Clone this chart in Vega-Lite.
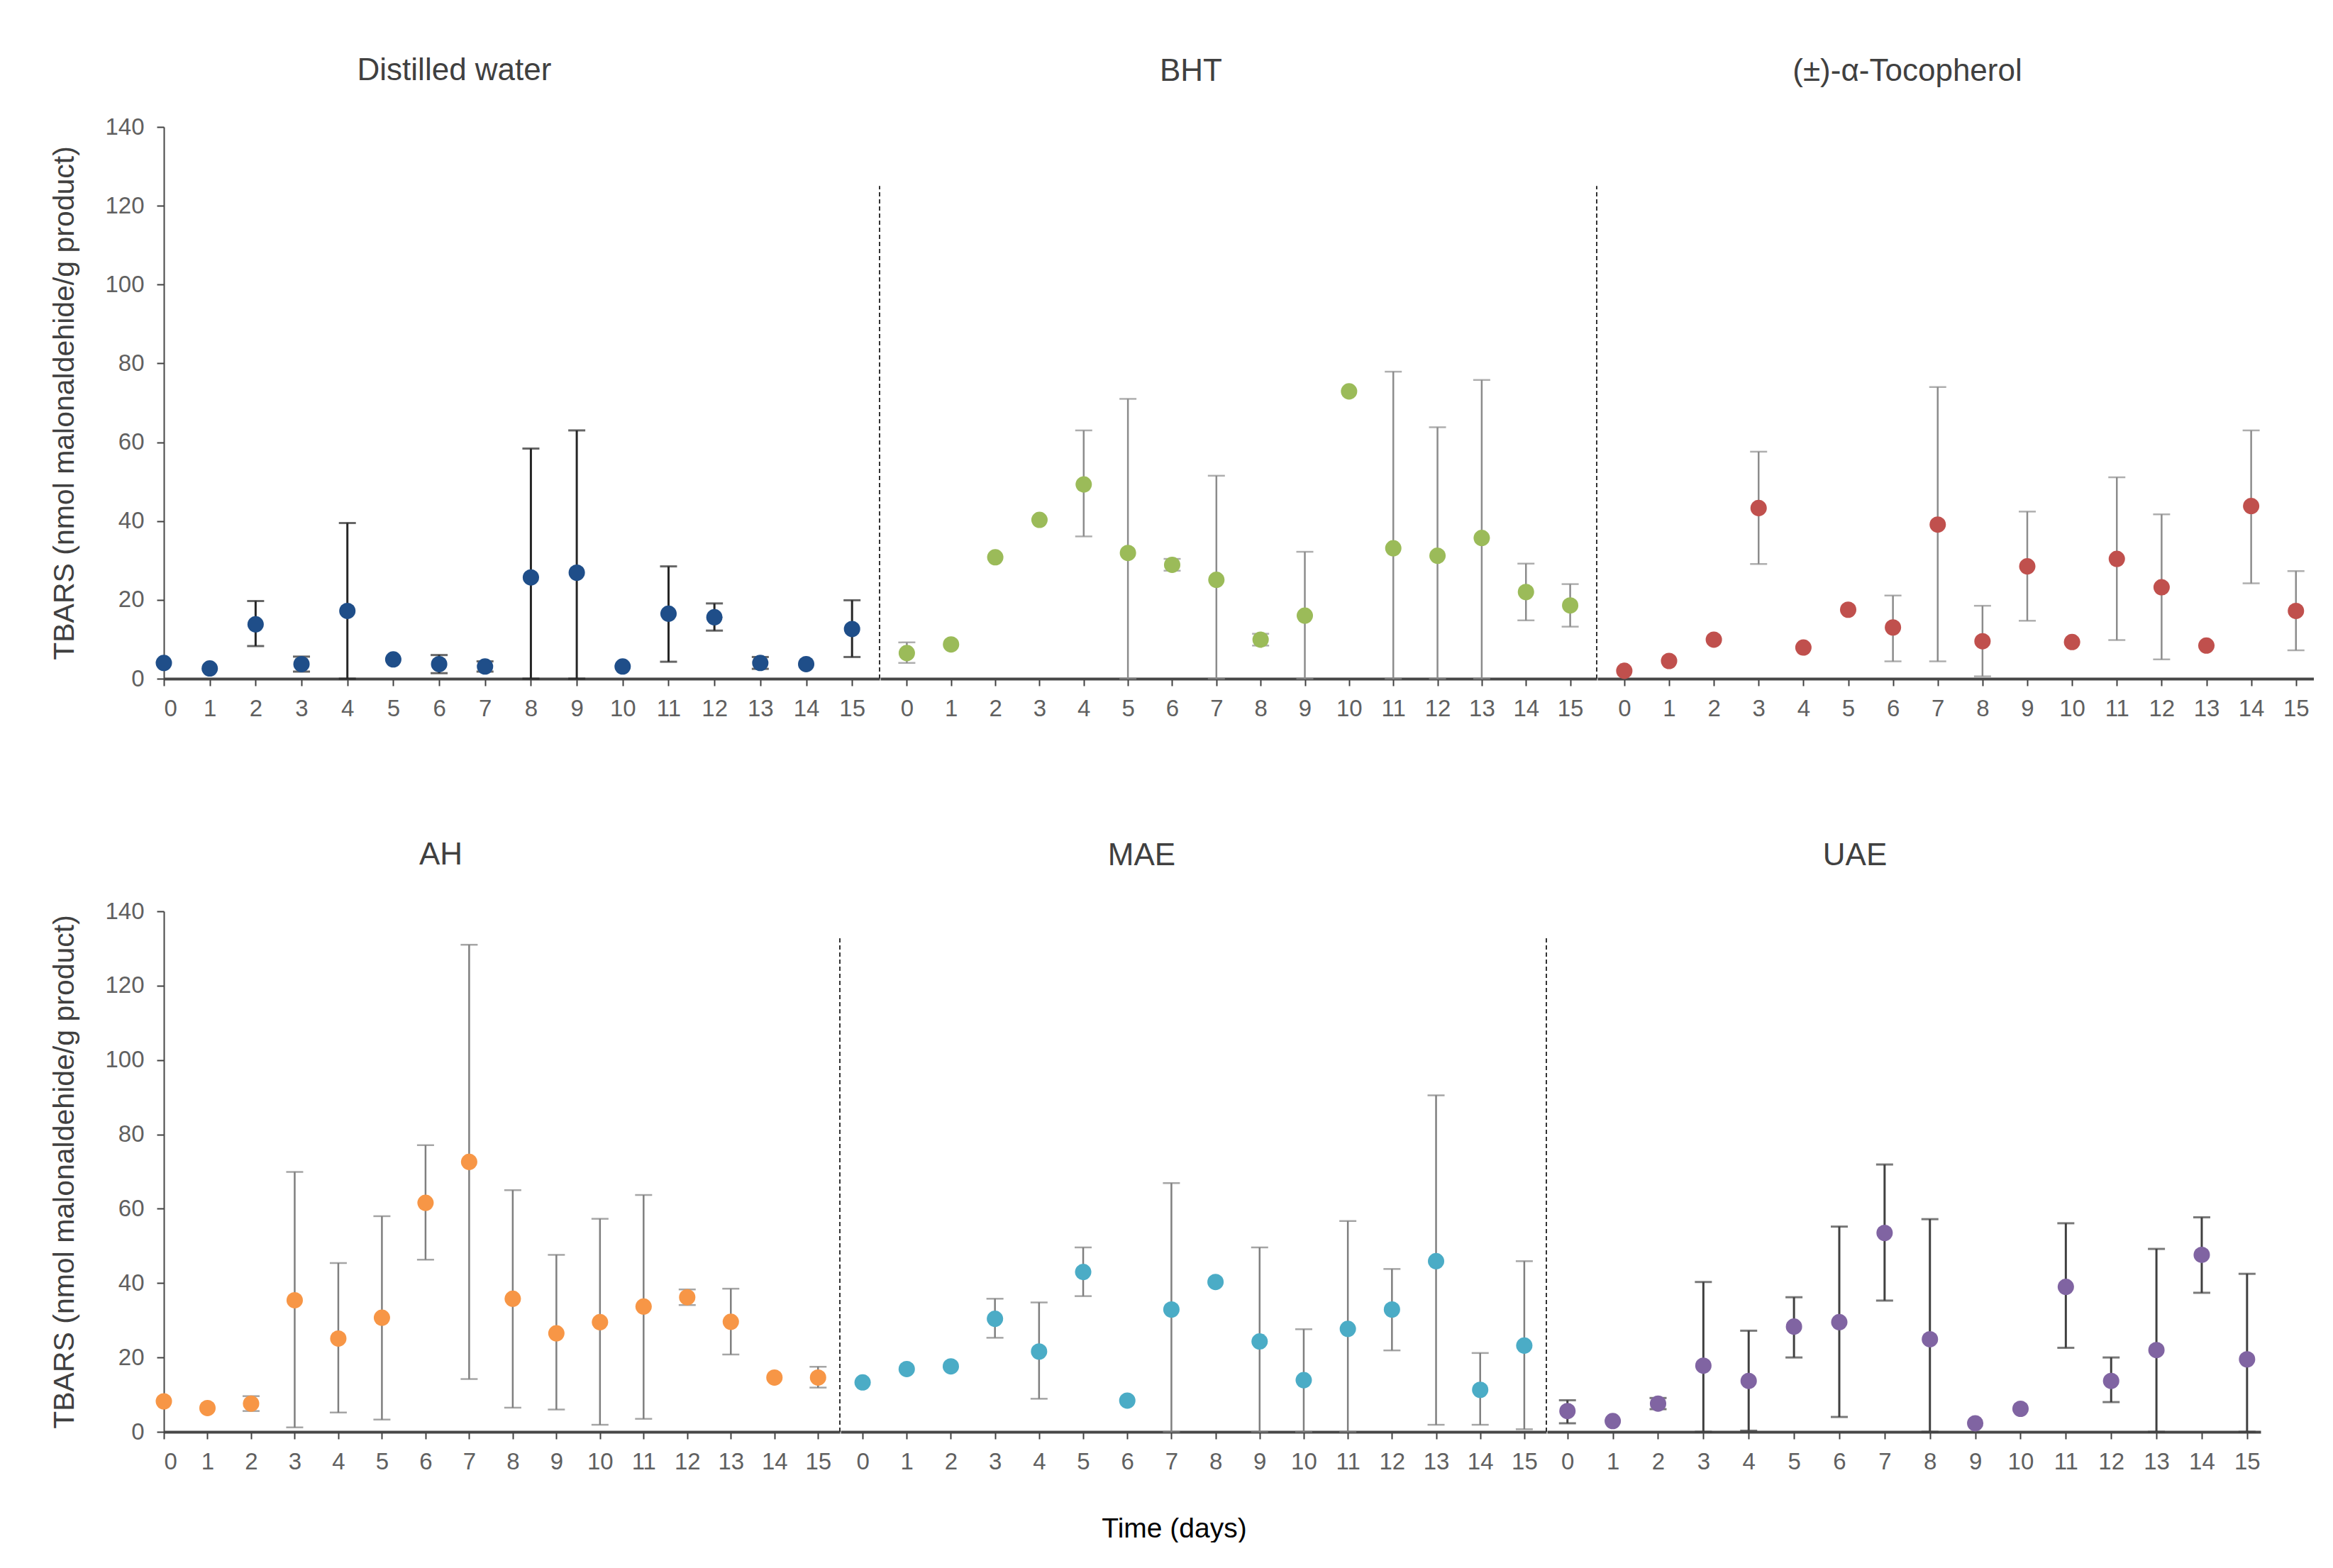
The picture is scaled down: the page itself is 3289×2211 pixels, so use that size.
{
  "$schema": "https://vega.github.io/schema/vega-lite/v6.json",
  "padding": {"left": 70, "top": 78, "right": 0, "bottom": 0},
  "data": {
    "values": [
      {"g": "DW", "day": 0, "m": 4.0},
      {"g": "DW", "day": 1, "m": 2.6},
      {"g": "DW", "day": 2, "m": 13.8, "lo": 8.3, "hi": 19.7},
      {"g": "DW", "day": 3, "m": 3.7, "lo": 1.8, "hi": 5.6},
      {"g": "DW", "day": 4, "m": 17.2, "lo": 0, "hi": 39.5},
      {"g": "DW", "day": 5, "m": 4.9},
      {"g": "DW", "day": 6, "m": 3.7, "lo": 1.4, "hi": 6.0},
      {"g": "DW", "day": 7, "m": 3.1, "lo": 1.8, "hi": 4.4},
      {"g": "DW", "day": 8, "m": 25.7, "lo": 0, "hi": 58.4},
      {"g": "DW", "day": 9, "m": 26.9, "lo": 0, "hi": 63.0},
      {"g": "DW", "day": 10, "m": 3.1},
      {"g": "DW", "day": 11, "m": 16.5, "lo": 4.3, "hi": 28.5},
      {"g": "DW", "day": 12, "m": 15.6, "lo": 12.2, "hi": 19.1},
      {"g": "DW", "day": 13, "m": 4.0, "lo": 2.5, "hi": 5.5},
      {"g": "DW", "day": 14, "m": 3.7},
      {"g": "DW", "day": 15, "m": 12.6, "lo": 5.5, "hi": 19.9},

      {"g": "BHT", "day": 0, "m": 6.5, "lo": 4.0, "hi": 9.2},
      {"g": "BHT", "day": 1, "m": 8.7},
      {"g": "BHT", "day": 2, "m": 30.8},
      {"g": "BHT", "day": 3, "m": 40.3},
      {"g": "BHT", "day": 4, "m": 49.3, "lo": 36.1, "hi": 63.0},
      {"g": "BHT", "day": 5, "m": 31.9, "lo": 0, "hi": 71.0},
      {"g": "BHT", "day": 6, "m": 28.9, "lo": 27.4, "hi": 30.4},
      {"g": "BHT", "day": 7, "m": 25.1, "lo": 0, "hi": 51.5},
      {"g": "BHT", "day": 8, "m": 9.9, "lo": 8.4, "hi": 11.4},
      {"g": "BHT", "day": 9, "m": 16.0, "lo": 0, "hi": 32.2},
      {"g": "BHT", "day": 10, "m": 72.9},
      {"g": "BHT", "day": 11, "m": 33.1, "lo": 0, "hi": 77.9},
      {"g": "BHT", "day": 12, "m": 31.2, "lo": 0, "hi": 63.8},
      {"g": "BHT", "day": 13, "m": 35.7, "lo": 0, "hi": 75.8},
      {"g": "BHT", "day": 14, "m": 22.0, "lo": 14.8, "hi": 29.2},
      {"g": "BHT", "day": 15, "m": 18.6, "lo": 13.2, "hi": 24.0},

      {"g": "TOC", "day": 0, "m": 2.0},
      {"g": "TOC", "day": 1, "m": 4.5},
      {"g": "TOC", "day": 2, "m": 9.9},
      {"g": "TOC", "day": 3, "m": 43.3, "lo": 29.1, "hi": 57.6},
      {"g": "TOC", "day": 4, "m": 7.9},
      {"g": "TOC", "day": 5, "m": 17.5},
      {"g": "TOC", "day": 6, "m": 13.0, "lo": 4.4, "hi": 21.1},
      {"g": "TOC", "day": 7, "m": 39.1, "lo": 4.4, "hi": 74.0},
      {"g": "TOC", "day": 8, "m": 9.5, "lo": 0.6, "hi": 18.5},
      {"g": "TOC", "day": 9, "m": 28.5, "lo": 14.7, "hi": 42.4},
      {"g": "TOC", "day": 10, "m": 9.3},
      {"g": "TOC", "day": 11, "m": 30.4, "lo": 9.8, "hi": 51.1},
      {"g": "TOC", "day": 12, "m": 23.2, "lo": 4.9, "hi": 41.7},
      {"g": "TOC", "day": 13, "m": 8.4},
      {"g": "TOC", "day": 14, "m": 43.8, "lo": 24.2, "hi": 63.0},
      {"g": "TOC", "day": 15, "m": 17.2, "lo": 7.2, "hi": 27.3},

      {"g": "AH", "day": 0, "m": 8.2},
      {"g": "AH", "day": 1, "m": 6.4},
      {"g": "AH", "day": 2, "m": 7.6, "lo": 5.6, "hi": 9.6},
      {"g": "AH", "day": 3, "m": 35.4, "lo": 1.2, "hi": 69.9},
      {"g": "AH", "day": 4, "m": 25.1, "lo": 5.2, "hi": 45.4},
      {"g": "AH", "day": 5, "m": 30.7, "lo": 3.3, "hi": 58.0},
      {"g": "AH", "day": 6, "m": 61.6, "lo": 46.3, "hi": 77.1},
      {"g": "AH", "day": 7, "m": 72.6, "lo": 14.2, "hi": 131.0},
      {"g": "AH", "day": 8, "m": 35.8, "lo": 6.5, "hi": 65.0},
      {"g": "AH", "day": 9, "m": 26.5, "lo": 6.0, "hi": 47.6},
      {"g": "AH", "day": 10, "m": 29.5, "lo": 1.9, "hi": 57.3},
      {"g": "AH", "day": 11, "m": 33.7, "lo": 3.5, "hi": 63.7},
      {"g": "AH", "day": 12, "m": 36.2, "lo": 34.1, "hi": 38.3},
      {"g": "AH", "day": 13, "m": 29.6, "lo": 20.8, "hi": 38.5},
      {"g": "AH", "day": 14, "m": 14.6},
      {"g": "AH", "day": 15, "m": 14.6, "lo": 11.9, "hi": 17.5},

      {"g": "MAE", "day": 0, "m": 13.3},
      {"g": "MAE", "day": 1, "m": 16.9},
      {"g": "MAE", "day": 2, "m": 17.6},
      {"g": "MAE", "day": 3, "m": 30.4, "lo": 25.3, "hi": 35.8},
      {"g": "MAE", "day": 4, "m": 21.6, "lo": 8.9, "hi": 34.8},
      {"g": "MAE", "day": 5, "m": 43.0, "lo": 36.5, "hi": 49.6},
      {"g": "MAE", "day": 6, "m": 8.4},
      {"g": "MAE", "day": 7, "m": 32.9, "lo": 0, "hi": 66.9},
      {"g": "MAE", "day": 8, "m": 40.3},
      {"g": "MAE", "day": 9, "m": 24.3, "lo": 0, "hi": 49.6},
      {"g": "MAE", "day": 10, "m": 13.9, "lo": 0, "hi": 27.6},
      {"g": "MAE", "day": 11, "m": 27.7, "lo": 0, "hi": 56.7},
      {"g": "MAE", "day": 12, "m": 32.9, "lo": 21.9, "hi": 43.8},
      {"g": "MAE", "day": 13, "m": 45.9, "lo": 1.9, "hi": 90.5},
      {"g": "MAE", "day": 14, "m": 11.3, "lo": 1.9, "hi": 21.2},
      {"g": "MAE", "day": 15, "m": 23.2, "lo": 0.7, "hi": 45.9},

      {"g": "UAE", "day": 0, "m": 5.6, "lo": 2.3, "hi": 8.5},
      {"g": "UAE", "day": 1, "m": 2.9},
      {"g": "UAE", "day": 2, "m": 7.6, "lo": 6.1, "hi": 9.1},
      {"g": "UAE", "day": 3, "m": 17.8, "lo": 0, "hi": 40.3},
      {"g": "UAE", "day": 4, "m": 13.7, "lo": 0.3, "hi": 27.2},
      {"g": "UAE", "day": 5, "m": 28.3, "lo": 20.0, "hi": 36.2},
      {"g": "UAE", "day": 6, "m": 29.5, "lo": 4.0, "hi": 55.2},
      {"g": "UAE", "day": 7, "m": 53.5, "lo": 35.3, "hi": 71.9},
      {"g": "UAE", "day": 8, "m": 24.9, "lo": 0, "hi": 57.2},
      {"g": "UAE", "day": 9, "m": 2.3},
      {"g": "UAE", "day": 10, "m": 6.2},
      {"g": "UAE", "day": 11, "m": 39.0, "lo": 22.6, "hi": 56.1},
      {"g": "UAE", "day": 12, "m": 13.7, "lo": 8.0, "hi": 20.0},
      {"g": "UAE", "day": 13, "m": 22.0, "lo": 0, "hi": 49.2},
      {"g": "UAE", "day": 14, "m": 47.6, "lo": 37.4, "hi": 57.7},
      {"g": "UAE", "day": 15, "m": 19.5, "lo": 0, "hi": 42.5}
    ]
  },
  "vconcat": [
    {
      "hconcat": [
        {
          "width": 1009, "height": 778,
          "title": {"text": "Distilled water", "dx": -95, "offset": 41},
          "layer": [
            {
              "transform": [{"filter": "datum.g == 'DW'"}],
              "mark": {"type": "errorbar", "ticks": true, "size": 24, "thickness": 3, "color": "#262626"},
              "encoding": {
                "x": {"field": "day", "type": "quantitative", "scale": {"domain": [0, 15.6], "nice": false, "zero": false}, "axis": {"values": [0,1,2,3,4,5,6,7,8,9,10,11,12,13,14,15], "title": null}},
                "y": {"field": "lo", "type": "quantitative", "scale": {"domain": [0, 140], "nice": false}, "axis": {"values": [0,20,40,60,80,100,120,140], "title": "TBARS (nmol malonaldehide/g  product)"}},
                "y2": {"field": "hi"}
              }
            },
            {
              "transform": [{"filter": "datum.g == 'DW'"}],
              "mark": {"type": "circle", "size": 530, "opacity": 1, "color": "#1F4E89"},
              "encoding": {
                "x": {"field": "day", "type": "quantitative"},
                "y": {"field": "m", "type": "quantitative"}
              }
            },
            {
              "data": {"values": [{}]},
              "mark": {"type": "rule", "strokeDash": [6, 4], "strokeWidth": 2, "color": "#333333"},
              "encoding": {"x": {"datum": 15.6}, "y": {"datum": 0}, "y2": {"datum": 125}}
            }
          ]
        },
        {
          "width": 1010, "height": 778,
          "title": {"text": "BHT", "dx": -67},
          "layer": [
            {
              "transform": [{"filter": "datum.g == 'BHT'"}],
              "mark": {"type": "errorbar", "ticks": true, "size": 24, "thickness": 2.5, "color": "#8c8c8c"},
              "encoding": {
                "x": {"field": "day", "type": "quantitative", "scale": {"domain": [-0.6, 15.6], "nice": false, "zero": false}, "axis": {"values": [0,1,2,3,4,5,6,7,8,9,10,11,12,13,14,15], "title": null}},
                "y": {"field": "lo", "type": "quantitative", "scale": {"domain": [0, 140], "nice": false}, "axis": null},
                "y2": {"field": "hi"}
              }
            },
            {
              "transform": [{"filter": "datum.g == 'BHT'"}],
              "mark": {"type": "circle", "size": 530, "opacity": 1, "color": "#9BBB59"},
              "encoding": {
                "x": {"field": "day", "type": "quantitative"},
                "y": {"field": "m", "type": "quantitative"}
              }
            },
            {
              "data": {"values": [{}]},
              "mark": {"type": "rule", "strokeDash": [6, 4], "strokeWidth": 2, "color": "#333333"},
              "encoding": {"x": {"datum": 15.6}, "y": {"datum": 0}, "y2": {"datum": 125}}
            }
          ]
        },
        {
          "width": 1010, "height": 778,
          "title": {"text": "(±)-α-Tocopherol", "dx": -68},
          "layer": [
            {
              "transform": [{"filter": "datum.g == 'TOC'"}],
              "mark": {"type": "errorbar", "ticks": true, "size": 24, "thickness": 2.5, "color": "#8c8c8c"},
              "encoding": {
                "x": {"field": "day", "type": "quantitative", "scale": {"domain": [-0.6, 15.4], "nice": false, "zero": false}, "axis": {"values": [0,1,2,3,4,5,6,7,8,9,10,11,12,13,14,15], "title": null}},
                "y": {"field": "lo", "type": "quantitative", "scale": {"domain": [0, 140], "nice": false}, "axis": null},
                "y2": {"field": "hi"}
              }
            },
            {
              "transform": [{"filter": "datum.g == 'TOC'"}],
              "mark": {"type": "circle", "size": 530, "opacity": 1, "color": "#C0504D"},
              "encoding": {
                "x": {"field": "day", "type": "quantitative"},
                "y": {"field": "m", "type": "quantitative"}
              }
            }
          ]
        }
      ]
    },
    {
      "hconcat": [
        {
          "width": 953, "height": 734,
          "title": {"text": "AH", "dx": -86, "offset": 41},
          "layer": [
            {
              "transform": [{"filter": "datum.g == 'AH'"}],
              "mark": {"type": "errorbar", "ticks": true, "size": 24, "thickness": 2.5, "color": "#7f7f7f"},
              "encoding": {
                "x": {"field": "day", "type": "quantitative", "scale": {"domain": [0, 15.5], "nice": false, "zero": false}, "axis": {"values": [0,1,2,3,4,5,6,7,8,9,10,11,12,13,14,15], "title": null}},
                "y": {"field": "lo", "type": "quantitative", "scale": {"domain": [0, 140], "nice": false}, "axis": {"values": [0,20,40,60,80,100,120,140], "title": "TBARS (nmol malonaldehide/g  product)"}},
                "y2": {"field": "hi"}
              }
            },
            {
              "transform": [{"filter": "datum.g == 'AH'"}],
              "mark": {"type": "circle", "size": 530, "opacity": 1, "color": "#F79646"},
              "encoding": {
                "x": {"field": "day", "type": "quantitative"},
                "y": {"field": "m", "type": "quantitative"}
              }
            },
            {
              "data": {"values": [{}]},
              "mark": {"type": "rule", "strokeDash": [6, 4], "strokeWidth": 2, "color": "#333333"},
              "encoding": {"x": {"datum": 15.5}, "y": {"datum": 0}, "y2": {"datum": 133}}
            }
          ]
        },
        {
          "width": 995, "height": 734,
          "title": {"text": "MAE", "dx": -73},
          "layer": [
            {
              "transform": [{"filter": "datum.g == 'MAE'"}],
              "mark": {"type": "errorbar", "ticks": true, "size": 24, "thickness": 2.5, "color": "#7f7f7f"},
              "encoding": {
                "x": {"field": "day", "type": "quantitative", "scale": {"domain": [-0.5, 15.5], "nice": false, "zero": false}, "axis": {"values": [0,1,2,3,4,5,6,7,8,9,10,11,12,13,14,15], "title": "Time (days)", "titleColor": "#000000", "titleFontSize": 39, "titlePadding": 58, "titleX": 470}},
                "y": {"field": "lo", "type": "quantitative", "scale": {"domain": [0, 140], "nice": false}, "axis": null},
                "y2": {"field": "hi"}
              }
            },
            {
              "transform": [{"filter": "datum.g == 'MAE'"}],
              "mark": {"type": "circle", "size": 530, "opacity": 1, "color": "#4BACC6"},
              "encoding": {
                "x": {"field": "day", "type": "quantitative"},
                "y": {"field": "m", "type": "quantitative"}
              }
            },
            {
              "data": {"values": [{}]},
              "mark": {"type": "rule", "strokeDash": [6, 4], "strokeWidth": 2, "color": "#333333"},
              "encoding": {"x": {"datum": 15.5}, "y": {"datum": 0}, "y2": {"datum": 133}}
            }
          ]
        },
        {
          "width": 1006, "height": 734,
          "title": {"text": "UAE", "dx": -69},
          "layer": [
            {
              "transform": [{"filter": "datum.g == 'UAE'"}],
              "mark": {"type": "errorbar", "ticks": true, "size": 24, "thickness": 3, "color": "#404040"},
              "encoding": {
                "x": {"field": "day", "type": "quantitative", "scale": {"domain": [-0.45, 15.3], "nice": false, "zero": false}, "axis": {"values": [0,1,2,3,4,5,6,7,8,9,10,11,12,13,14,15], "title": null}},
                "y": {"field": "lo", "type": "quantitative", "scale": {"domain": [0, 140], "nice": false}, "axis": null},
                "y2": {"field": "hi"}
              }
            },
            {
              "transform": [{"filter": "datum.g == 'UAE'"}],
              "mark": {"type": "circle", "size": 530, "opacity": 1, "color": "#8064A2"},
              "encoding": {
                "x": {"field": "day", "type": "quantitative"},
                "y": {"field": "m", "type": "quantitative"}
              }
            }
          ]
        }
      ]
    }
  ],
  "spacing": 168,
  "config": {
    "font": "Liberation Sans",
    "view": {"stroke": null},
    "concat": {"spacing": 0},
    "axis": {
      "grid": false,
      "format": "d",
      "labelOverlap": false,
      "labelFont": "Liberation Sans",
      "labelFontSize": 33,
      "labelColor": "#606060",
      "tickColor": "#404040",
      "domainColor": "#474747",
      "tickSize": 10,
      "tickWidth": 2,
      "domainWidth": 4,
      "labelPadding": 16,
      "titleFont": "Liberation Sans",
      "titleFontSize": 41,
      "titleFontWeight": "normal",
      "titleColor": "#404040"
    },
    "axisY": {"labelPadding": 18, "titlePadding": 35, "domainWidth": 2},
    "title": {"font": "Liberation Sans", "fontSize": 44, "fontWeight": "normal", "color": "#404040", "offset": 56, "frame": "group"}
  }
}
